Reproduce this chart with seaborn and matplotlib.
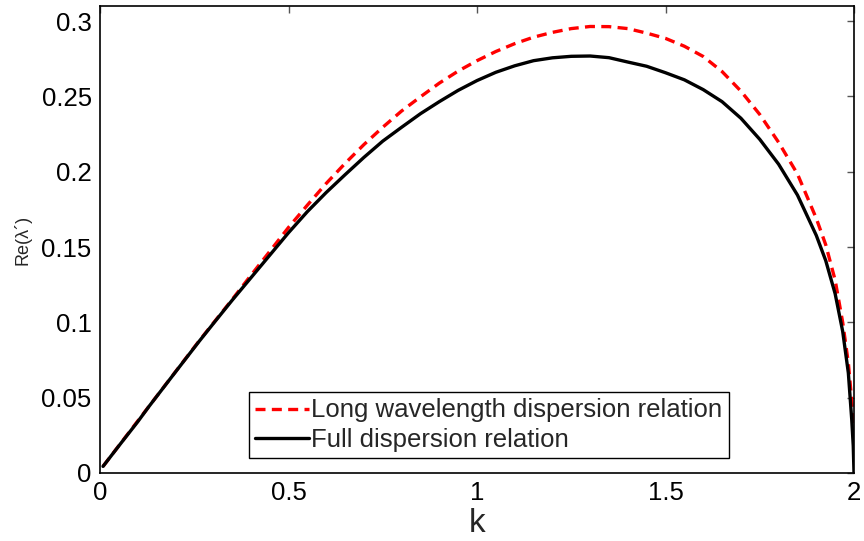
import numpy as np
import pandas as pd
import matplotlib
matplotlib.use("Agg")
import matplotlib.pyplot as plt
import seaborn as sns

# Full dispersion relation (black solid)
k_full = [0.008, 0.05, 0.1, 0.13, 0.2, 0.263, 0.3, 0.35, 0.395, 0.45, 0.5, 0.55,
          0.6, 0.65, 0.7, 0.75, 0.8, 0.85, 0.9, 0.95, 1.0, 1.05, 1.1, 1.15,
          1.2, 1.25, 1.3, 1.35, 1.4, 1.45, 1.5, 1.55, 1.6, 1.65, 1.7, 1.75,
          1.8, 1.85, 1.9, 1.925, 1.95, 1.97, 1.985, 1.994, 1.998, 2.0]
re_full = [0.0044, 0.018, 0.034, 0.0442, 0.067, 0.0874, 0.099, 0.1145, 0.128, 0.1445, 0.1595, 0.1735,
           0.1862, 0.198, 0.2095, 0.2203, 0.2295, 0.2385, 0.2465, 0.2540, 0.2605, 0.2660, 0.2703, 0.2737,
           0.2756, 0.2766, 0.2768, 0.2757, 0.2728, 0.2700, 0.2657, 0.2610, 0.2545, 0.2465, 0.2355, 0.2215,
           0.2050, 0.1845, 0.1577, 0.1410, 0.1190, 0.0940, 0.0664, 0.0354, 0.0180, 0.0]

# Long wavelength dispersion relation (red dashed)
k_long = [0.008, 0.13, 0.263, 0.35, 0.395, 0.45, 0.5, 0.55, 0.6, 0.65, 0.7, 0.75,
          0.8, 0.85, 0.9, 0.95, 1.0, 1.05, 1.1, 1.15, 1.2, 1.25, 1.3, 1.35,
          1.4, 1.45, 1.5, 1.55, 1.6, 1.65, 1.7, 1.75, 1.8, 1.85, 1.9, 1.925,
          1.95, 1.97, 1.985, 1.995, 2.0]
re_long = [0.0044, 0.0443, 0.0877, 0.115, 0.1295, 0.147, 0.163, 0.1778, 0.1922, 0.2055, 0.218, 0.2295,
           0.2403, 0.2497, 0.2588, 0.2668, 0.2737, 0.2798, 0.2850, 0.2893, 0.2925, 0.2950, 0.2964, 0.2963,
           0.2950, 0.2920, 0.2885, 0.2833, 0.2765, 0.2665, 0.2535, 0.2380, 0.2195, 0.1985, 0.1690, 0.1515,
           0.1280, 0.1000, 0.0730, 0.0450, 0.020]

x_ticks = [0, 0.5, 1, 1.5, 2]
x_tick_labels = ["0", "0.5", "1", "1.5", "2"]
y_ticks = [0, 0.05, 0.1, 0.15, 0.2, 0.25, 0.3]
y_tick_labels = ["0", "0.05", "0.1", "0.15", "0.2", "0.25", "0.3"]

label_long = "Long wavelength dispersion relation"
label_full = "Full dispersion relation"

df_long = pd.DataFrame({"k": k_long, "re": re_long})
df_full = pd.DataFrame({"k": k_full, "re": re_full})

sns.set_style("white")
plt.rcParams["font.family"] = ["Liberation Sans", "DejaVu Sans"]

fig = plt.figure(figsize=(8.64, 5.41), dpi=100)
ax = fig.add_axes([100 / 864, 1 - 473 / 541, 754 / 864, 467 / 541])

sns.lineplot(data=df_long, x="k", y="re", ax=ax, color="#ff0000", linewidth=2.4,
             linestyle=(0, (3.0, 1.9)), label=label_long, estimator=None)
sns.lineplot(data=df_full, x="k", y="re", ax=ax, color="black", linewidth=2.4,
             label=label_full, estimator=None)
for ln in ax.lines:
    ln.set_solid_joinstyle("round")
    ln.set_dash_joinstyle("round")

ax.set_xlim(0, 2)
ax.set_ylim(0, 0.31)
ax.set_xticks(x_ticks)
ax.set_xticklabels(x_tick_labels)
ax.set_yticks(y_ticks)
ax.set_yticklabels(y_tick_labels)
ax.tick_params(direction="in", length=5, width=1, color="#555555", labelsize=18.5,
               top=True, right=True, pad=6, labelcolor="black")
for s in ax.spines.values():
    s.set_visible(True)
    s.set_color("black")
    s.set_linewidth(1.2)

ax.set_xlabel("k", fontsize=24, labelpad=2)
ax.set_ylabel("Re(λ´)", fontsize=13, labelpad=7.5)

leg = ax.legend(loc="lower left", bbox_to_anchor=(0.197, 0.032), fontsize=18.5,
                frameon=True, fancybox=False, framealpha=1, edgecolor="black",
                handlelength=2.1, handletextpad=0.1, borderpad=0.25,
                labelspacing=0.2, borderaxespad=0)
leg.get_frame().set_linewidth(1.0)

fig.savefig("out.png", dpi=100)
